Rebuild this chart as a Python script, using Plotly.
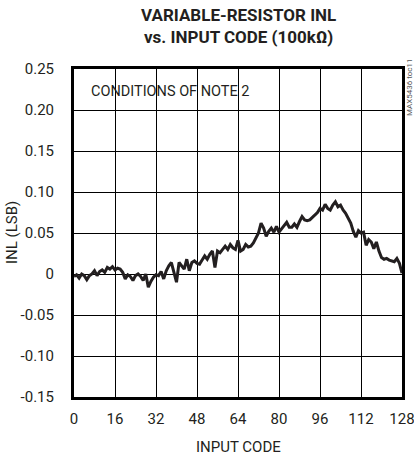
import plotly.graph_objects as go

codes = list(range(0, 129))
inl = [
    -0.003, -0.001, -0.005, 0.000, -0.002, -0.007, -0.002, 0.000,
    0.004, -0.002, 0.003, 0.005, 0.002, 0.008, 0.006, 0.009,
    0.005, 0.007, 0.006, 0.002, -0.006, -0.001, -0.003, -0.008,
    -0.002, 0.000, -0.003, -0.008, 0.000, -0.016, -0.009, -0.004,
    -0.001, -0.002, 0.003, -0.006, 0.004, 0.010, 0.014, 0.002,
    -0.010, 0.014, 0.010, 0.006, 0.018, 0.004, 0.014, 0.016,
    0.013, 0.012, 0.017, 0.022, 0.018, 0.024, 0.028, 0.008,
    0.028, 0.026, 0.030, 0.034, 0.030, 0.036, 0.032, 0.030,
    0.041, 0.028, 0.030, 0.036, 0.033, 0.034, 0.038, 0.044,
    0.050, 0.062, 0.056, 0.046, 0.052, 0.056, 0.051, 0.058,
    0.051, 0.055, 0.059, 0.063, 0.057, 0.057, 0.061, 0.057,
    0.064, 0.070, 0.066, 0.065, 0.066, 0.069, 0.072, 0.075,
    0.080, 0.078, 0.085, 0.080, 0.078, 0.084, 0.088, 0.082,
    0.084, 0.078, 0.074, 0.068, 0.062, 0.052, 0.045, 0.053,
    0.050, 0.051, 0.035, 0.042, 0.039, 0.031, 0.039, 0.028,
    0.020, 0.018, 0.019, 0.017, 0.016, 0.015, 0.019, 0.013,
    0.001,
]

x_ticks = [0, 16, 32, 48, 64, 80, 96, 112, 128]
y_ticks = [0.25, 0.20, 0.15, 0.10, 0.05, 0.0, -0.05, -0.10, -0.15]
y_tick_text = ["0.25", "0.20", "0.15", "0.10", "0.05", "0", "-0.05", "-0.10", "-0.15"]

FONT = "Roboto, Liberation Sans, sans-serif"
INK = "#231f20"

fig = go.Figure()
fig.add_trace(go.Scatter(
    x=codes, y=inl, mode="lines",
    line=dict(color=INK, width=3),
    showlegend=False, hoverinfo="skip", cliponaxis=False,
))

fig.update_layout(
    width=414, height=457,
    margin=dict(l=74, r=12, t=69, b=60, autoexpand=False),
    paper_bgcolor="white", plot_bgcolor="white",
    font=dict(family=FONT, size=15, color=INK),
    xaxis=dict(
        range=[0, 128], tickvals=x_ticks, ticktext=[str(v) for v in x_ticks],
        showgrid=True, gridcolor="black", gridwidth=1,
        showline=True, linecolor="black", linewidth=3, mirror=True,
        ticks="", zeroline=False, automargin=False,
        ticklabeloverflow="allow", ticklabelstandoff=6,
        tickfont=dict(family=FONT, size=15, color=INK),
    ),
    yaxis=dict(
        range=[-0.15, 0.25], tickvals=y_ticks, ticktext=y_tick_text,
        showgrid=True, gridcolor="black", gridwidth=1,
        showline=True, linecolor="black", linewidth=3, mirror=True,
        ticks="", zeroline=False, automargin=False,
        ticklabeloverflow="allow", ticklabelstandoff=14,
        tickfont=dict(family=FONT, size=15, color=INK),
    ),
    annotations=[
        dict(text="<b>VARIABLE-RESISTOR INL<br>vs. INPUT CODE (100kΩ)</b>",
             xref="paper", yref="paper", x=0.5, y=1.0, yshift=43,
             xanchor="center", yanchor="middle", showarrow=False,
             font=dict(family=FONT, size=17, color=INK)),
        dict(text="INPUT CODE", xref="paper", yref="paper", x=0.5, y=0.0, yshift=-50,
             xanchor="center", yanchor="middle", showarrow=False,
             font=dict(family=FONT, size=15, color=INK)),
        dict(text="INL (LSB)", xref="paper", yref="paper", x=0.0, xshift=-62, y=0.5,
             textangle=-90, xanchor="center", yanchor="middle", showarrow=False,
             font=dict(family=FONT, size=15, color=INK)),
        dict(text="CONDITIONS OF NOTE 2", xref="x", yref="y", x=6, y=0.223,
             xanchor="left", yanchor="middle", showarrow=False,
             font=dict(family=FONT, size=14.5, color=INK)),
        dict(text="MAX5436 toc11", xref="paper", yref="paper", x=1.0, xshift=7,
             y=1.0, yshift=-18, textangle=-90, xanchor="center", yanchor="middle",
             showarrow=False, font=dict(family=FONT, size=8, color="#555555")),
    ],
)

fig.write_html("out.html", config={"displayModeBar": False},
               post_script="document.body.style.margin='0';document.body.style.padding='0';")
